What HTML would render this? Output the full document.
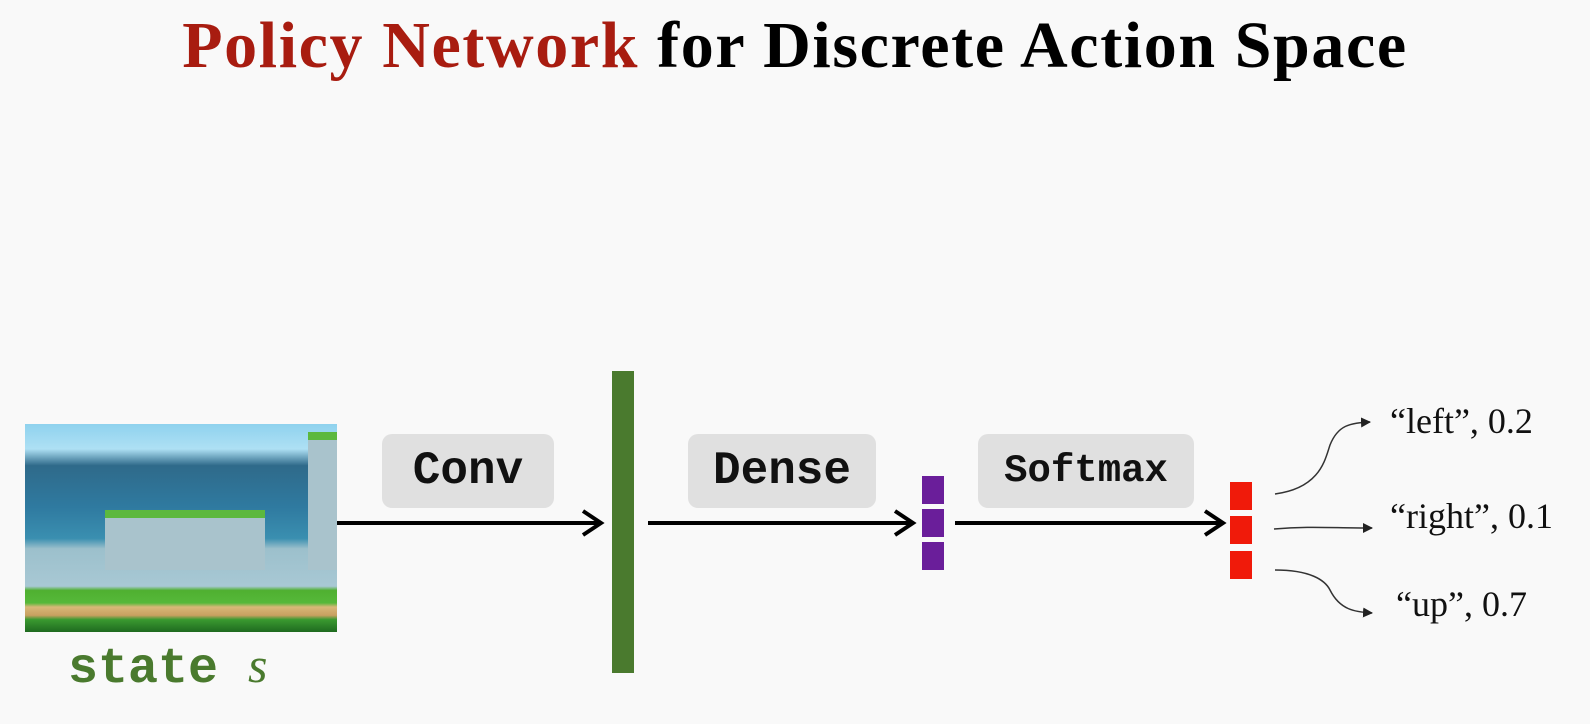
<!DOCTYPE html>
<html><head><style>
body{margin:0;width:1590px;height:724px;background:#f9f9f9;position:relative;overflow:hidden;font-family:"Liberation Serif",serif}
.t{position:absolute;left:0;width:1590px;top:8px;text-align:center;font-size:66px;letter-spacing:1.6px;font-weight:bold;color:#000;white-space:nowrap}
.box{position:absolute;background:#e0e0e0;border-radius:10px;font-family:"Liberation Mono",monospace;font-weight:bold;text-align:center;color:#111}
.lab{position:absolute;font-size:36px;color:#111;white-space:nowrap}
</style></head><body>
<div class="t"><span style="color:#a81c10">Policy Network</span> for Discrete Action Space</div>

<div style="position:absolute;left:25px;top:424px;width:312px;height:208px;background:linear-gradient(#8fd2ee 0%,#aee0f4 12%,#2f6a8a 20%,#2f7aa0 40%,#3a8fb0 55%,#9cc0cc 60%,#a8c8d4 78%,#4fb030 80%,#56b83a 86%,#d8b878 88%,#c8a060 92%,#3a9a30 94%,#1f6a20 100%)"></div>
<div style="position:absolute;left:105px;top:510px;width:160px;height:52px;background:#a9c3cc;border-top:8px solid #5cb83e"></div>
<div style="position:absolute;left:308px;top:432px;width:29px;height:130px;background:#a9c3cc;border-top:8px solid #5cb83e"></div>

<div style="position:absolute;left:68px;top:636px;font-family:'Liberation Mono',monospace;font-weight:bold;font-size:50px;color:#4a7a2e">state <span style="font-family:'Liberation Serif',serif;font-style:italic;font-weight:normal">s</span></div>

<div class="box" style="left:382px;top:434px;width:172px;height:74px;line-height:74px;font-size:46px">Conv</div>
<div class="box" style="left:688px;top:434px;width:188px;height:74px;line-height:74px;font-size:46px">Dense</div>
<div class="box" style="left:978px;top:434px;width:216px;height:74px;line-height:74px;font-size:39px">Softmax</div>

<div style="position:absolute;left:612px;top:371px;width:22px;height:302px;background:#4a7a2e"></div>

<div style="position:absolute;left:922px;top:476px;width:22px;height:28px;background:#6a1e9a"></div>
<div style="position:absolute;left:922px;top:509px;width:22px;height:28px;background:#6a1e9a"></div>
<div style="position:absolute;left:922px;top:542px;width:22px;height:28px;background:#6a1e9a"></div>

<div style="position:absolute;left:1230px;top:482px;width:22px;height:28px;background:#f01a0a"></div>
<div style="position:absolute;left:1230px;top:516px;width:22px;height:28px;background:#f01a0a"></div>
<div style="position:absolute;left:1230px;top:551px;width:22px;height:28px;background:#f01a0a"></div>

<svg width="1590" height="724" style="position:absolute;left:0;top:0">
<defs>
<marker id="a" markerWidth="10" markerHeight="10" refX="9" refY="5" orient="auto" markerUnits="userSpaceOnUse"><path d="M0,0 L10,5 L0,10 Z" fill="#222"/></marker>
</defs>
<g stroke="#000" stroke-width="4" fill="none">
<line x1="337" y1="523" x2="600" y2="523"/><path d="M583,511 L601,523 L583,535"/>
<line x1="648" y1="523" x2="912" y2="523"/><path d="M895,511 L913,523 L895,535"/>
<line x1="955" y1="523" x2="1222" y2="523"/><path d="M1205,511 L1223,523 L1205,535"/>
</g>
<g stroke="#333" stroke-width="1.5" fill="none">
<path d="M1275,494 C1320,488 1325,460 1330,445 C1338,425 1350,423 1370,422" marker-end="url(#a)"/>
<path d="M1274,529 C1310,526 1330,528 1372,528" marker-end="url(#a)"/>
<path d="M1275,570 C1310,570 1325,580 1330,590 C1340,610 1355,612 1372,613" marker-end="url(#a)"/>
</g>
</svg>
<div class="lab" style="left:1390px;top:400px">“left”, 0.2</div>
<div class="lab" style="left:1390px;top:495px">“right”, 0.1</div>
<div class="lab" style="left:1396px;top:583px">“up”, 0.7</div>
</body></html>
